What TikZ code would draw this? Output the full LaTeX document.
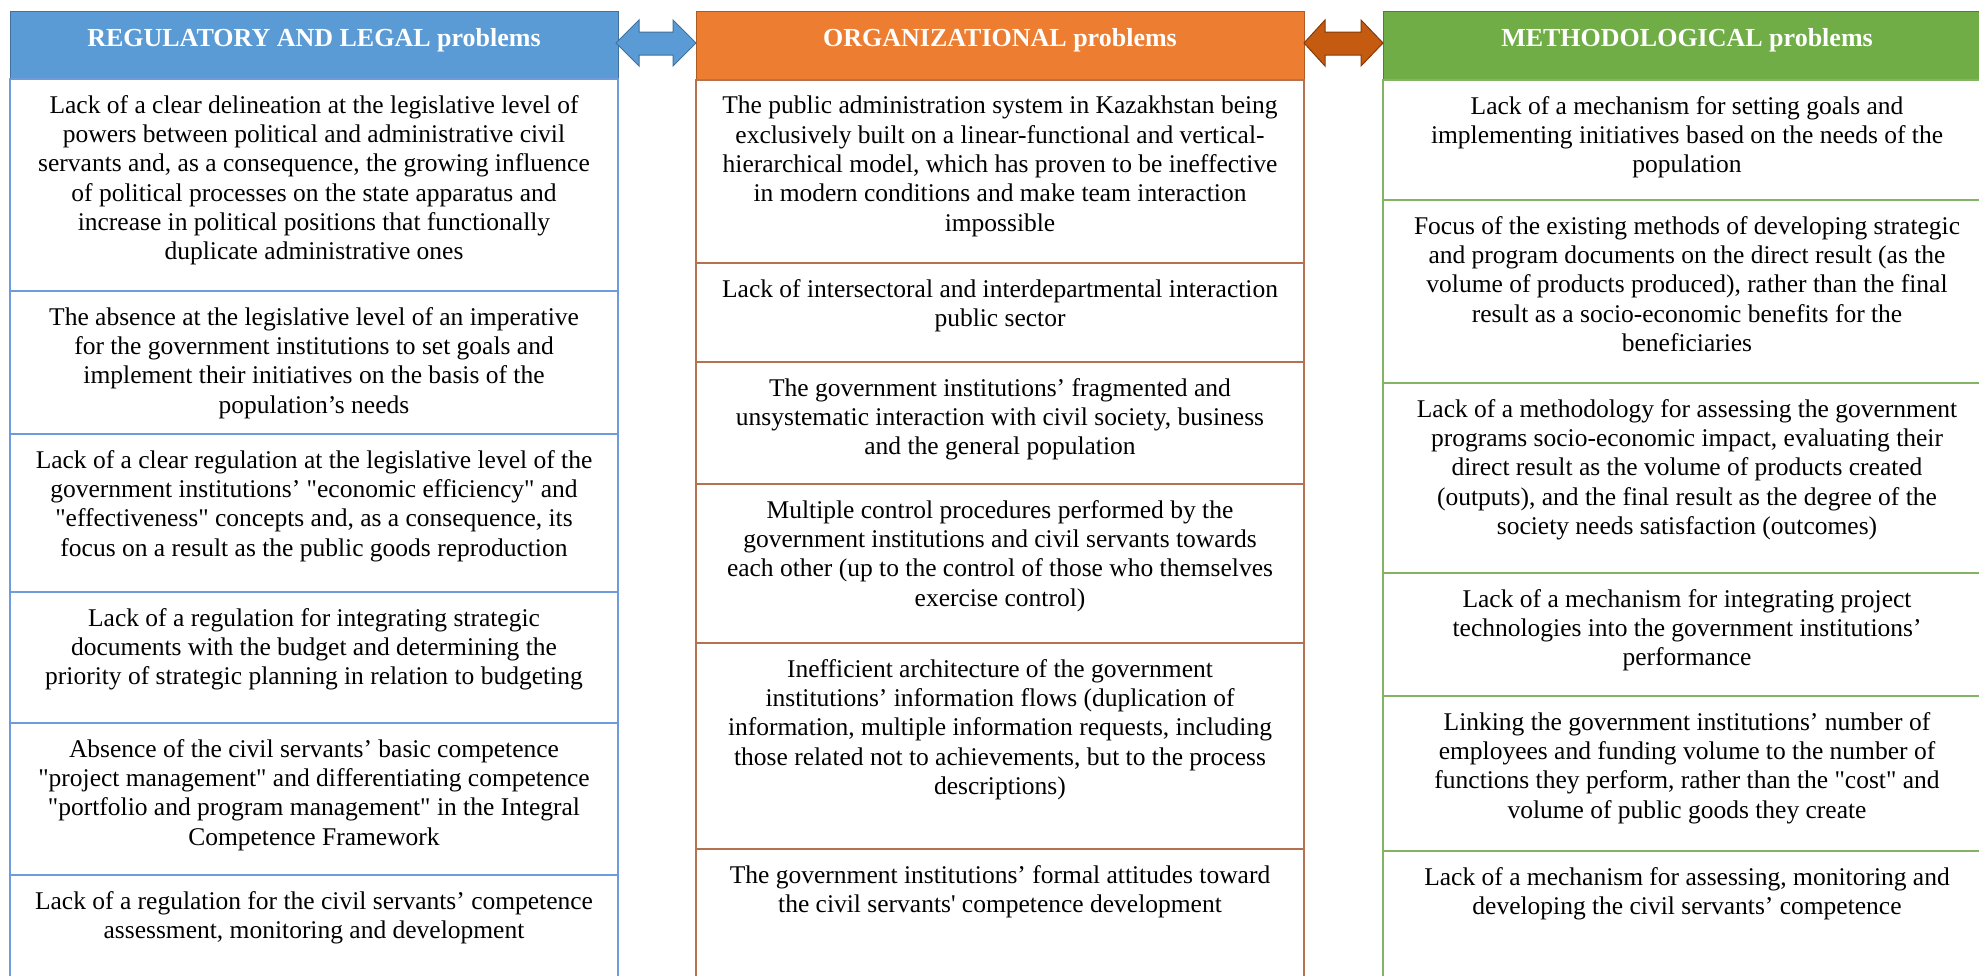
\documentclass[tikz,border=0pt]{standalone}
\usepackage{fontspec}
\setmainfont{Liberation Serif}[Ligatures=TeXOff]
\definecolor{hblue}{RGB}{91,155,213}
\definecolor{hblueb}{RGB}{65,113,156}
\definecolor{horange}{RGB}{237,125,49}
\definecolor{horangeb}{RGB}{174,90,33}
\definecolor{hgreen}{RGB}{112,173,71}
\definecolor{hgreenb}{RGB}{80,126,50}
\definecolor{aorange}{RGB}{197,90,17}
\definecolor{aorangeb}{RGB}{132,60,12}
\definecolor{cblue}{RGB}{110,155,222}
\definecolor{corange}{RGB}{180,115,80}
\definecolor{cgreen}{RGB}{130,180,100}
\tikzset{
  celltext/.style={align=center, inner sep=0pt, anchor=north, font=\fontsize{25.5}{29.3}\selectfont},
  headtext/.style={text=white, inner sep=0pt, font=\fontsize{26}{30}\selectfont\bfseries},
  cellbox/.style={line width=1.6pt},
  blockarrow/.style={line width=1pt},
}
\newcommand\mycell[7]{%
  \draw[cellbox,#6] (#2,#4) rectangle (#3,#5);
  \node[celltext] (#1) at ({(#2+#3)/2},{#4+16}) {#7};}
\begin{document}
\begin{tikzpicture}[x=1pt,y=-1pt]
\clip (0,0) rectangle (1979,975);
\fill[white] (0,0) rectangle (1979,975);

% headers
\fill[hblue,draw=hblueb,line width=0.8pt] (10,11) rectangle (618,79);
\node[headtext] (hreg) at (314,40) {REGULATORY AND LEGAL problems};
\fill[horange,draw=horangeb,line width=0.8pt] (696,11) rectangle (1304,80);
\node[headtext] (horg) at (1000,40) {ORGANIZATIONAL problems};
\fill[hgreen,draw=hgreenb,line width=0.8pt] (1383,11) rectangle (1991,80);
\node[headtext] (hmet) at (1687,40) {METHODOLOGICAL problems};

% block arrows
\draw[blockarrow,fill=hblue,draw=hblueb] (616,43) -- (639,20) -- (639,32) -- (673,32) -- (673,20) -- (696,43) -- (673,66) -- (673,55) -- (639,55) -- (639,66) -- cycle;
\draw[blockarrow,fill=aorange,draw=aorangeb] (1304,43) -- (1325,20) -- (1325,32) -- (1361,32) -- (1361,20) -- (1383,43) -- (1361,66) -- (1361,55) -- (1325,55) -- (1325,66) -- cycle;

% blue column
\mycell{b1}{10}{618}{79}{291}{draw=cblue}{Lack of a clear delineation at the legislative level of\\powers between political and administrative civil\\servants and, as a consequence, the growing influence\\of political processes on the state apparatus and\\increase in political positions that functionally\\duplicate administrative ones}
\mycell{b2}{10}{618}{291}{434}{draw=cblue}{The absence at the legislative level of an imperative\\for the government institutions to set goals and\\implement their initiatives on the basis of the\\population’s needs}
\mycell{b3}{10}{618}{434}{592}{draw=cblue}{Lack of a clear regulation at the legislative level of the\\government institutions’ "economic efficiency" and\\"effectiveness" concepts and, as a consequence, its\\focus on a result as the public goods reproduction}
\mycell{b4}{10}{618}{592}{723}{draw=cblue}{Lack of a regulation for integrating strategic\\documents with the budget and determining the\\priority of strategic planning in relation to budgeting}
\mycell{b5}{10}{618}{723}{875}{draw=cblue}{Absence of the civil servants’ basic competence\\"project management" and differentiating competence\\"portfolio and program management" in the Integral\\Competence Framework}
\mycell{b6}{10}{618}{875}{995}{draw=cblue}{Lack of a regulation for the civil servants’ competence\\assessment, monitoring and development}

% orange column
\mycell{o1}{696}{1304}{80}{263}{draw=corange}{The public administration system in Kazakhstan being\\exclusively built on a linear-functional and vertical-\\hierarchical model, which has proven to be ineffective\\in modern conditions and make team interaction\\impossible}
\mycell{o2}{696}{1304}{263}{362}{draw=corange}{Lack of intersectoral and interdepartmental interaction\\public sector}
\mycell{o3}{696}{1304}{362}{484}{draw=corange}{The government institutions’ fragmented and\\unsystematic interaction with civil society, business\\and the general population}
\mycell{o4}{696}{1304}{484}{643}{draw=corange}{Multiple control procedures performed by the\\government institutions and civil servants towards\\each other (up to the control of those who themselves\\exercise control)}
\mycell{o5}{696}{1304}{643}{849}{draw=corange}{Inefficient architecture of the government\\institutions’ information flows (duplication of\\information, multiple information requests, including\\those related not to achievements, but to the process\\descriptions)}
\mycell{o6}{696}{1304}{849}{995}{draw=corange}{The government institutions’ formal attitudes toward\\the civil servants' competence development}

% green column
\mycell{g1}{1383}{1991}{80}{200}{draw=cgreen}{Lack of a mechanism for setting goals and\\implementing initiatives based on the needs of the\\population}
\mycell{g2}{1383}{1991}{200}{383}{draw=cgreen}{Focus of the existing methods of developing strategic\\and program documents on the direct result (as the\\volume of products produced), rather than the final\\result as a socio-economic benefits for the\\beneficiaries}
\mycell{g3}{1383}{1991}{383}{573}{draw=cgreen}{Lack of a methodology for assessing the government\\programs socio-economic impact, evaluating their\\direct result as the volume of products created\\(outputs), and the final result as the degree of the\\society needs satisfaction (outcomes)}
\mycell{g4}{1383}{1991}{573}{696}{draw=cgreen}{Lack of a mechanism for integrating project\\technologies into the government institutions’\\performance}
\mycell{g5}{1383}{1991}{696}{851}{draw=cgreen}{Linking the government institutions’ number of\\employees and funding volume to the number of\\functions they perform, rather than the "cost" and\\volume of public goods they create}
\mycell{g6}{1383}{1991}{851}{995}{draw=cgreen}{Lack of a mechanism for assessing, monitoring and\\developing the civil servants’ competence}
\end{tikzpicture}
\end{document}
